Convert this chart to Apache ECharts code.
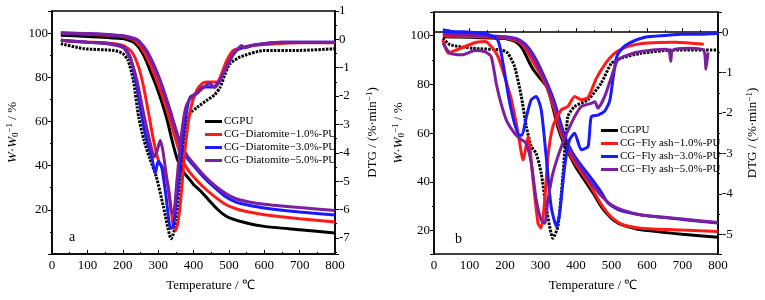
<!doctype html>
<html>
<head>
<meta charset="utf-8">
<title>TG / DTG</title>
<script src="https://cdn.jsdelivr.net/npm/echarts@6/dist/echarts.min.js"></script>
<style>
  html, body { margin: 0; height: 100%; background: #fff; }
  #chart { width: 765px; height: 300px; }
</style>
</head>
<body>
<div id="chart"></div>
<script>
// ---- data: [temperature, value] ----
// panel a: TG (left axis, %)
const aTgCgpu = [[25,99],[100,98.5],[200,97.5],[230,96],[250,92.5],[265,88],[280,82],[295,76],[310,69],[325,61],[340,51],[355,42.5],[370,37.5],[385,34.5],[400,31.5],[420,28.5],[440,25],[460,21.5],[480,18.5],[500,16.5],[550,14],[600,12.5],[700,11],[800,9.5]];
const aTgD1 = [[25,100],[100,99.5],[200,98.5],[230,97],[250,94],[265,90],[280,85],[295,79],[310,72.5],[325,65],[340,57],[355,49],[370,42],[385,38],[400,35],[430,30],[460,26],[490,22.5],[520,20.5],[550,19.2],[600,17.8],[700,16],[800,14.5]];
const aTgD3 = [[25,100],[100,99.7],[200,98.7],[240,97],[260,93.5],[275,89.5],[290,84.5],[305,78.5],[320,71.5],[335,64],[350,56],[365,48.5],[380,44],[400,40],[430,34.5],[460,30],[490,26],[520,23.5],[550,22.3],[600,20.8],[700,19],[800,17.7]];
const aTgD5 = [[25,100],[100,99.8],[200,98.8],[240,97.2],[260,93.8],[275,90],[290,85],[305,79],[320,72],[335,64.5],[350,56.5],[365,49.5],[380,45],[400,41],[430,35.5],[460,31],[490,27.5],[520,25],[550,23.8],[600,22.5],[700,21],[800,19.7]];
// panel a: DTG (right axis, %/min)
const aDtgCgpu = [[25,-0.15],[90,-0.33],[175,-0.39],[200,-0.5],[215,-0.74],[230,-1.44],[245,-2.74],[260,-3.56],[275,-4.15],[295,-4.85],[315,-5.9],[337,-7.03],[353,-6.38],[367,-4.73],[379,-3.1],[391,-2.6],[410,-2.4],[438,-2.15],[460,-1.95],[475,-1.7],[490,-1.2],[503,-0.86],[532,-0.62],[600,-0.39],[700,-0.39],[800,-0.33]];
const aDtgD1 = [[25,-0.02],[60,-0.08],[100,-0.1],[150,-0.12],[200,-0.21],[226,-0.45],[245,-0.98],[259,-1.68],[273,-2.6],[287,-3.56],[301,-4.27],[315,-4.6],[329,-5.2],[343,-6.6],[351,-6.73],[362,-5.9],[376,-3.9],[391,-2.5],[409,-1.8],[425,-1.55],[438,-1.5],[466,-1.5],[494,-0.74],[513,-0.39],[570,-0.21],[700,-0.12],[800,-0.12]];
const aDtgD3 = [[25,-0.03],[60,-0.06],[100,-0.1],[150,-0.14],[202,-0.27],[221,-0.62],[240,-1.68],[254,-2.74],[268,-3.56],[282,-4.15],[292,-4.73],[300,-4.3],[310,-4.5],[322,-5.5],[335,-6.67],[343,-6.6],[357,-5.1],[368,-3.7],[381,-2.5],[391,-2.03],[409,-1.9],[428,-1.68],[456,-1.68],[475,-1.44],[503,-0.74],[522,-0.39],[570,-0.21],[650,-0.1],[800,-0.1]];
const aDtgD5 = [[25,-0.03],[60,-0.07],[100,-0.1],[150,-0.14],[202,-0.3],[222,-0.7],[240,-1.44],[259,-2.62],[278,-3.68],[289,-4.15],[298,-3.9],[306,-3.56],[313,-3.9],[320,-4.5],[332,-5.6],[339,-6.15],[345,-6.1],[353,-5.0],[362,-3.8],[372,-2.8],[381,-2.3],[395,-2.03],[410,-1.9],[428,-1.7],[445,-1.55],[460,-1.7],[475,-1.45],[503,-0.74],[515,-0.45],[525,-0.35],[535,-0.22],[545,-0.3],[570,-0.2],[650,-0.1],[800,-0.1]];

// panel b: TG (left axis, %)
const bTgCgpu = [[25,99.5],[100,99.3],[200,98.8],[230,97.5],[250,94.5],[265,90],[280,86],[300,82.3],[320,78.5],[335,70.5],[350,62],[365,56],[380,51.5],[400,46],[420,41.5],[450,35],[475,29],[500,25],[520,23],[550,21.5],[584,20.3],[700,18.5],[800,17.3]];
const bTgF1 = [[25,100],[100,99.6],[200,99],[240,97.5],[260,94],[280,89],[300,84],[320,78],[340,69],[355,61],[370,55.5],[390,49.5],[410,45],[440,38.5],[470,31],[500,25.5],[530,22.5],[584,21],[700,20.2],[800,19.6]];
const bTgF3 = [[25,101],[100,100.5],[200,99.5],[240,98.3],[260,96],[280,92],[300,86.5],[320,80],[340,72.5],[355,65],[370,58],[390,52],[410,47.7],[440,42],[470,36],[490,31.3],[520,28.5],[584,26.4],[700,24.6],[800,23.1]];
const bTgF5 = [[25,100.5],[100,100.2],[200,99.3],[240,98],[260,95.5],[280,91],[300,85.5],[320,79],[340,71],[355,63],[370,56.5],[390,51],[410,46.3],[440,40],[470,34.5],[500,30.5],[530,28.5],[584,26.4],[700,24.8],[800,23.3]];
// panel b: DTG (right axis, %/min)
const bDtgCgpu = [[25,-0.15],[45,-0.31],[110,-0.4],[190,-0.44],[208,-0.52],[227,-0.85],[246,-1.59],[260,-2.33],[274,-2.83],[288,-3.0],[302,-3.49],[316,-4.32],[335,-5.1],[349,-4.81],[363,-3.57],[377,-2.09],[396,-1.84],[434,-1.67],[471,-1.26],[500,-0.77],[528,-0.64],[584,-0.52],[678,-0.44],[800,-0.44]];
const bDtgF1 = [[25,-0.19],[40,-0.52],[60,-0.45],[100,-0.31],[120,-0.25],[143,-0.23],[161,-0.35],[180,-0.6],[199,-1.1],[218,-1.67],[237,-2.5],[251,-3.16],[265,-2.58],[279,-3.66],[293,-4.73],[302,-4.85],[312,-4.15],[321,-3.08],[335,-2.33],[359,-1.92],[377,-1.84],[396,-1.59],[415,-1.67],[434,-1.62],[457,-1.15],[481,-0.8],[509,-0.52],[547,-0.35],[603,-0.27],[680,-0.25],[760,-0.3]];
const bDtgF3 = [[25,0.06],[50,0.02],[100,0.0],[150,-0.05],[180,-0.2],[196,-0.85],[210,-1.6],[225,-2.2],[240,-2.55],[248,-2.55],[260,-2.1],[274,-1.67],[288,-1.59],[302,-1.92],[316,-3.08],[330,-4.32],[345,-4.81],[354,-4.48],[368,-3.33],[382,-2.66],[396,-2.5],[415,-2.91],[434,-2.83],[443,-2.09],[462,-2.05],[481,-1.95],[495,-1.7],[505,-1.1],[515,-0.6],[530,-0.4],[550,-0.27],[597,-0.12],[650,-0.08],[700,-0.05],[750,-0.05],[800,-0.03]];
const bDtgF5 = [[25,-0.27],[45,-0.52],[80,-0.56],[115,-0.45],[143,-0.48],[161,-0.6],[176,-1.3],[190,-1.8],[205,-2.2],[227,-2.5],[246,-2.66],[260,-2.75],[274,-3.24],[288,-4.15],[302,-4.65],[312,-4.73],[321,-4.15],[335,-3.49],[359,-2.83],[387,-2.25],[415,-1.84],[443,-1.76],[453,-1.72],[462,-1.88],[481,-1.59],[500,-1.1],[518,-0.68],[547,-0.56],[584,-0.48],[650,-0.42],[662,-0.45],[667,-0.72],[672,-0.45],[720,-0.4],[760,-0.45],[766,-0.92],[772,-0.5]];

const namesA = ['CGPU', 'CG\u2212Diatomite\u22121.0%-PU', 'CG\u2212Diatomite\u22123.0%-PU', 'CG\u2212Diatomite\u22125.0%-PU'];
const namesB = ['CGPU ', 'CG\u2212Fly ash\u22121.0%-PU', 'CG\u2212Fly ash\u22123.0%-PU', 'CG\u2212Fly ash\u22125.0%-PU'];
const colors = ['#000000', '#ff1a1a', '#1a1aff', '#7b1f9e'];

const serif = 'Liberation Serif, Times New Roman, serif';

function line(name, data, color, xi, yi, dotted) {
  return {
    type: 'line', name: name, data: data,
    xAxisIndex: xi, yAxisIndex: yi,
    showSymbol: false, smooth: 0.2, animation: false,
    lineStyle: { color: color, width: 3, type: dotted ? [2.5, 1.2] : 'solid' },
    itemStyle: { color: color }
  };
}

function xAxis(gi) {
  return {
    type: 'value', gridIndex: gi, min: 0, max: 800, interval: 100,
    name: 'Temperature / \u2103', nameLocation: 'middle', nameGap: 25,
    nameTextStyle: { fontFamily: serif, fontSize: 13, color: '#000', padding: [0, 0, 0, 34] },
    axisLine: { lineStyle: { color: '#000', width: 1.5 } },
    axisTick: { inside: true, length: 4, lineStyle: { color: '#000' } },
    minorTick: { show: true, splitNumber: 2, length: 2, lineStyle: { color: '#000' } },
    axisLabel: { fontFamily: serif, fontSize: 13, color: '#000', margin: 5 },
    splitLine: { show: false }
  };
}

const nameRich = {
  i: { fontFamily: serif, fontSize: 13, fontStyle: 'italic', color: '#000' },
  sub: { fontFamily: serif, fontSize: 9, color: '#000', verticalAlign: 'bottom', padding: [6, 0, 0, 0] },
  sup: { fontFamily: serif, fontSize: 9, color: '#000', verticalAlign: 'top', padding: [0, 0, 6, 0] }
};

function yAxis(gi, pos, min, max, split, name, gap, showMax) {
  return {
    type: 'value', gridIndex: gi, position: pos, min: min, max: max, splitNumber: split,
    name: name, nameLocation: 'middle', nameGap: gap, nameRotate: 90,
    nameTextStyle: { fontFamily: serif, fontSize: 13, color: '#000', rich: nameRich },
    axisLine: { show: true, lineStyle: { color: '#000', width: 1.5 } },
    axisTick: { show: true, inside: false, length: 4, lineStyle: { color: '#000' } },
    minorTick: { show: true, splitNumber: 2, length: 2, lineStyle: { color: '#000' } },
    axisLabel: { fontFamily: serif, fontSize: 13, color: '#000', margin: 4,
      showMinLabel: false, showMaxLabel: showMax,
      formatter: function (v) { return Math.abs(v - Math.round(v)) < 1e-6 ? String(Math.round(v)) : ''; } },
    splitLine: { show: false }
  };
}

const twName = '{i|W}\u00b7{i|W}{sub|0}{sup|\u22121} / %';
const dtgName = 'DTG / (%\u00b7min{sup|\u22121})';

function legend(names, left, top) {
  return {
    data: names, orient: 'vertical', left: left, top: top,
    itemWidth: 17, itemHeight: 3, itemGap: 2, icon: 'rect',
    selectedMode: false,
    textStyle: { fontFamily: serif, fontSize: 11, color: '#000', padding: [0, 0, 0, -3] }
  };
}

const chart = echarts.init(document.getElementById('chart'), null, { renderer: 'canvas' });
chart.setOption({
  backgroundColor: '#fff',
  animation: false,
  title: [
    { text: 'a', left: 64, top: 225, textStyle: { fontFamily: serif, fontSize: 14, fontWeight: 'normal', color: '#000' } },
    { text: 'b', left: 450, top: 227, textStyle: { fontFamily: serif, fontSize: 14, fontWeight: 'normal', color: '#000' } }
  ],
  legend: [legend(namesA, 200, 111), legend(namesB, 596, 120)],
  grid: [
    { left: 52, right: 430, top: 11, bottom: 46, show: true, borderColor: '#000', borderWidth: 1.5 },
    { left: 434, right: 47, top: 12, bottom: 46, show: true, borderColor: '#000', borderWidth: 1.5 }
  ],
  xAxis: [xAxis(0), xAxis(1)],
  yAxis: [
    yAxis(0, 'left', 0, 110, 5, twName, 32, false),
    yAxis(0, 'right', -7.57, 1, 9, dtgName, 30, true),
    yAxis(1, 'left', 10.4, 109.7, 5, twName, 28, false),
    yAxis(1, 'right', -5.49, 0.5, 6, dtgName, 27, false)
  ],
  series: [
    line(namesA[0], aTgCgpu, colors[0], 0, 0),
    line(namesA[1], aTgD1, colors[1], 0, 0),
    line(namesA[2], aTgD3, colors[2], 0, 0),
    line(namesA[3], aTgD5, colors[3], 0, 0),
    line(namesA[0], aDtgCgpu, colors[0], 0, 1, true),
    line(namesA[1], aDtgD1, colors[1], 0, 1),
    line(namesA[2], aDtgD3, colors[2], 0, 1),
    line(namesA[3], aDtgD5, colors[3], 0, 1),
    line(namesB[0], bTgCgpu, colors[0], 1, 2),
    line(namesB[1], bTgF1, colors[1], 1, 2),
    line(namesB[2], bTgF3, colors[2], 1, 2),
    line(namesB[3], bTgF5, colors[3], 1, 2),
    line(namesB[0], bDtgCgpu, colors[0], 1, 3, true),
    line(namesB[1], bDtgF1, colors[1], 1, 3),
    line(namesB[2], bDtgF3, colors[2], 1, 3),
    line(namesB[3], bDtgF5, colors[3], 1, 3)
  ]
});
</script>
</body>
</html>
